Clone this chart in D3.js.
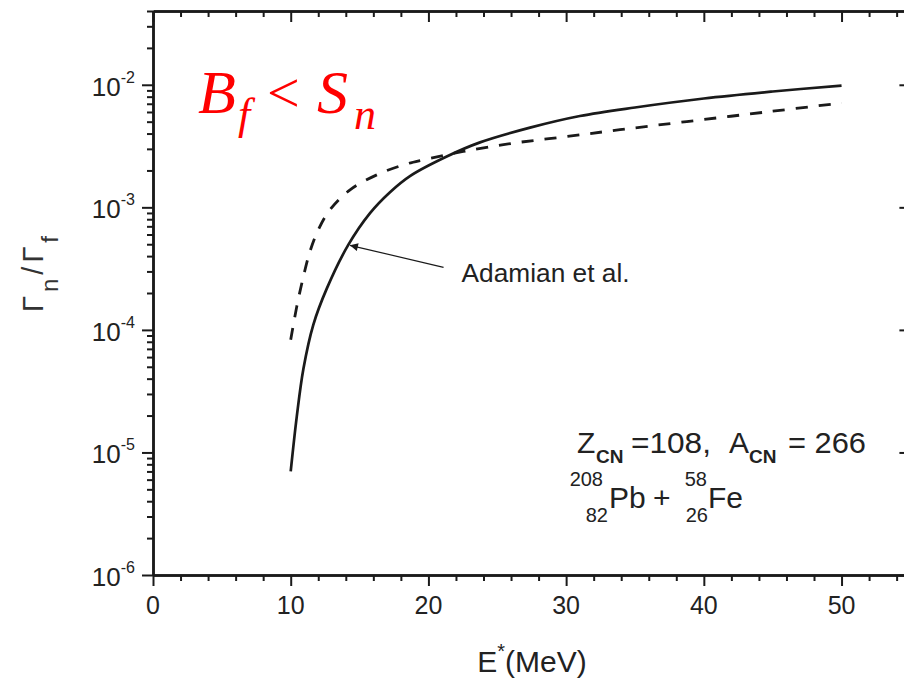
<!DOCTYPE html>
<html>
<head>
<meta charset="utf-8">
<script src="https://cdn.jsdelivr.net/npm/d3@7/dist/d3.min.js"></script>
<style>
  html, body { margin: 0; padding: 0; background: #fff; }
  svg { display: block; }
  text { font-family: "Liberation Sans", Arial, sans-serif; fill: #222; }
</style>
</head>
<body>
<svg id="chart" width="904" height="680"></svg>
<script>
// ---- data ----
const energySolid = [10, 10.44, 10.92, 11.64, 12.61, 14.18, 15.76, 17.21, 18.66, 21.33, 23.75, 27.38, 31, 35, 40, 45, 50];
const ratioSolid  = [7.0e-6, 1.96e-5, 4.8e-5, 1.10e-4, 2.16e-4, 4.94e-4, 8.98e-4, 1.33e-3, 1.80e-3, 2.60e-3, 3.39e-3, 4.47e-3, 5.56e-3, 6.53e-3, 7.73e-3, 8.81e-3, 9.86e-3];
const energyDashed = [10, 10.44, 10.92, 11.40, 12.0, 12.85, 14.31, 16.25, 18.18, 19.63, 22.53, 26.17, 30.04, 33.91, 38.76, 44.81, 50];
const ratioDashed  = [8.3e-5, 1.55e-4, 2.72e-4, 4.37e-4, 6.55e-4, 9.55e-4, 1.39e-3, 1.84e-3, 2.22e-3, 2.44e-3, 2.86e-3, 3.34e-3, 3.78e-3, 4.30e-3, 5.01e-3, 6.05e-3, 7.1e-3];
const xTickValues = [0, 10, 20, 30, 40, 50];
const yTickExponents = [-6, -5, -4, -3, -2];
const annotationLabel = "Adamian et al.";
const arrowTip = [14.3, 4.9e-4];
const arrowTail = [21.1, 3.24e-4];

(function () {
// ---- layout ----
const svg = d3.select("#chart");
const mLeft = 153, mRight = 910.4, mTop = 11, mBottom = 575;
const x = d3.scaleLinear().domain([0, 55]).range([mLeft, mRight]);
const y = d3.scaleLog().domain([1e-6, 0.04]).range([mBottom, mTop]);

const ink = "#1a1a1a";

// minor tick values
const xMinor = d3.range(0, 56, 2).filter(v => v % 10 !== 0);
const yMinor = [];
for (let e = -6; e <= -2; e++) for (let m = 2; m <= 9; m++) { const v = m * Math.pow(10, e); if (v <= 0.04) yMinor.push(v); }
const yMajor = yTickExponents.map(e => Math.pow(10, e));

function styleAxis(g, w) {
  g.select(".domain").attr("stroke", ink).attr("stroke-width", w);
  g.selectAll(".tick line").attr("stroke", ink).attr("stroke-width", 2);
  g.selectAll(".tick text").remove();
}

// bottom axis
svg.append("g").attr("transform", `translate(0,${mBottom})`)
  .call(d3.axisBottom(x).tickValues(xMinor).tickSize(6).tickSizeOuter(0))
  .call(g => styleAxis(g, 2.5));
svg.append("g").attr("transform", `translate(0,${mBottom})`)
  .call(d3.axisBottom(x).tickValues(xTickValues).tickSize(11).tickSizeOuter(0))
  .call(g => styleAxis(g, 2.5));
// top axis (ticks inward)
svg.append("g").attr("transform", `translate(0,${mTop})`)
  .call(d3.axisTop(x).tickValues(xMinor).tickSize(-6).tickSizeOuter(0))
  .call(g => styleAxis(g, 2.5));
svg.append("g").attr("transform", `translate(0,${mTop})`)
  .call(d3.axisTop(x).tickValues(xTickValues).tickSize(-11).tickSizeOuter(0))
  .call(g => styleAxis(g, 2.5));
// left axis
svg.append("g").attr("transform", `translate(${mLeft},0)`)
  .call(d3.axisLeft(y).tickValues(yMinor).tickSize(6).tickSizeOuter(0))
  .call(g => styleAxis(g, 2.5));
svg.append("g").attr("transform", `translate(${mLeft},0)`)
  .call(d3.axisLeft(y).tickValues(yMajor).tickSize(11).tickSizeOuter(0))
  .call(g => styleAxis(g, 2.5));
// right axis (ticks inward)
svg.append("g").attr("transform", `translate(${mRight},0)`)
  .call(d3.axisRight(y).tickValues(yMajor).tickSize(-11).tickSizeOuter(0))
  .call(g => styleAxis(g, 2.5));

// x tick labels
svg.append("g").selectAll("text").data(xTickValues).join("text")
  .attr("x", d => x(d)).attr("y", mBottom + 39)
  .attr("text-anchor", "middle").attr("font-size", 25)
  .text(d => d);

// y tick labels 10^e
const yl = svg.append("g").selectAll("text").data(yTickExponents).join("text")
  .attr("x", mLeft - 18).attr("y", d => y(Math.pow(10, d)) + 11)
  .attr("text-anchor", "end").attr("font-size", 26);
yl.append("tspan").text("10");
yl.append("tspan").attr("font-size", 16).attr("dy", -13).text(d => d);

// axis titles
const xt = svg.append("text").attr("x", 532).attr("y", 672)
  .attr("text-anchor", "middle").attr("font-size", 30);
xt.append("tspan").text("E");
xt.append("tspan").attr("font-size", 20).attr("dy", -14).text("*");
xt.append("tspan").attr("dy", 14).text("(MeV)");

const yt = svg.append("text").attr("transform", "translate(43,272) rotate(-90)")
  .attr("text-anchor", "middle").attr("font-size", 29)
  .attr("letter-spacing", 4).style("fill", "#333");
yt.append("tspan").text("Γ");
yt.append("tspan").attr("font-size", 24).attr("dy", 15).text("n");
yt.append("tspan").attr("dy", -15).text("/Γ");
yt.append("tspan").attr("font-size", 24).attr("dy", 15).text("f");

// curves
const line = d3.line().x(d => x(d[0])).y(d => y(d[1])).curve(d3.curveCatmullRom.alpha(0.5));
svg.append("path").datum(d3.zip(energySolid, ratioSolid))
  .attr("d", line).attr("fill", "none").attr("stroke", ink).attr("stroke-width", 2.7);
svg.append("path").datum(d3.zip(energyDashed, ratioDashed))
  .attr("d", line).attr("fill", "none").attr("stroke", ink).attr("stroke-width", 2.8)
  .attr("stroke-dasharray", "12,11");

// annotation arrow
const defs = svg.append("defs");
defs.append("marker").attr("id", "arr").attr("viewBox", "0 0 10 10")
  .attr("refX", 10).attr("refY", 5).attr("markerWidth", 13).attr("markerHeight", 8)
  .attr("markerUnits", "userSpaceOnUse").attr("orient", "auto")
  .append("path").attr("d", "M0,0 L10,5 L0,10 Z").attr("fill", ink);
svg.append("line")
  .attr("x1", x(arrowTail[0])).attr("y1", y(arrowTail[1]))
  .attr("x2", x(arrowTip[0])).attr("y2", y(arrowTip[1]))
  .attr("stroke", ink).attr("stroke-width", 1.2).attr("marker-end", "url(#arr)");
svg.append("text").attr("x", x(arrowTail[0]) + 18).attr("y", y(arrowTail[1]) + 15)
  .attr("font-size", 25).attr("textLength", 168).attr("lengthAdjust", "spacingAndGlyphs")
  .text(annotationLabel);

// reaction info, line 1
const info = svg.append("g");
const l1 = 453;
info.append("text").attr("x", 577).attr("y", l1).attr("font-size", 30).text("Z");
info.append("text").attr("x", 596).attr("y", l1 + 10).attr("font-size", 19).attr("font-weight", "bold").text("CN");
info.append("text").attr("x", 631).attr("y", l1).attr("font-size", 30)
  .attr("textLength", 80).attr("lengthAdjust", "spacingAndGlyphs").text("=108,");
info.append("text").attr("x", 729).attr("y", l1).attr("font-size", 30).text("A");
info.append("text").attr("x", 749).attr("y", l1 + 10).attr("font-size", 19).attr("font-weight", "bold").text("CN");
info.append("text").attr("x", 788).attr("y", l1).attr("font-size", 30)
  .attr("textLength", 78).attr("lengthAdjust", "spacingAndGlyphs").text("= 266");

// reaction info, line 2
const l2 = 508;
info.append("text").attr("x", 603).attr("y", l2 - 22).attr("font-size", 20).attr("text-anchor", "end").text("208");
info.append("text").attr("x", 608).attr("y", l2 + 14).attr("font-size", 20).attr("text-anchor", "end").text("82");
info.append("text").attr("x", 609).attr("y", l2).attr("font-size", 30).text("Pb");
info.append("text").attr("x", 653).attr("y", l2).attr("font-size", 30).text("+");
info.append("text").attr("x", 707).attr("y", l2 - 22).attr("font-size", 20).attr("text-anchor", "end").text("58");
info.append("text").attr("x", 708).attr("y", l2 + 14).attr("font-size", 20).attr("text-anchor", "end").text("26");
info.append("text").attr("x", 708).attr("y", l2).attr("font-size", 30).text("Fe");

// red condition label
const redFont = "'Liberation Serif', 'Times New Roman', serif";
const red = svg.append("g");
function redText(xp, yp, size, italic, s) {
  red.append("text").attr("x", xp).attr("y", yp).attr("font-size", size)
    .style("font-family", redFont).style("font-style", italic ? "italic" : "normal")
    .style("fill", "#ff0000").text(s);
}
redText(198, 113, 62, true, "B");
redText(238, 129, 44, true, "f");
redText(267, 112, 58, false, "<");
redText(317, 113, 62, true, "S");
redText(354, 129, 44, true, "n");
})();
</script>
</body>
</html>
